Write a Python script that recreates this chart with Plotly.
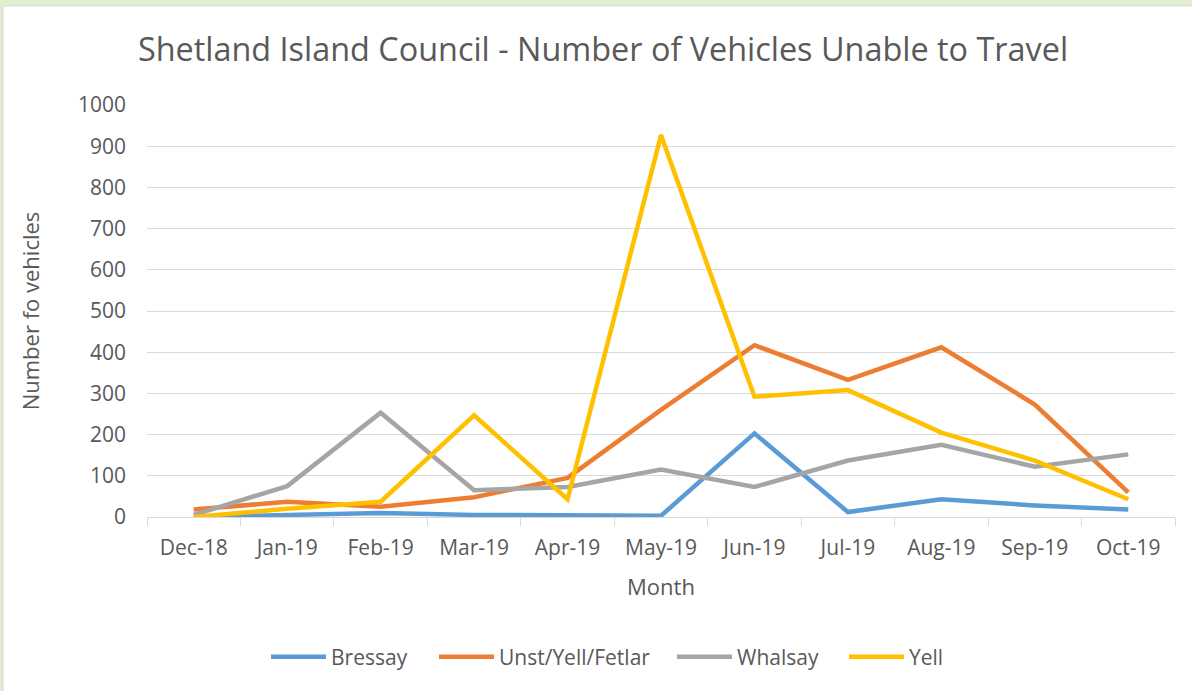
import plotly.graph_objects as go

months = ["Dec-18", "Jan-19", "Feb-19", "Mar-19", "Apr-19", "May-19",
          "Jun-19", "Jul-19", "Aug-19", "Sep-19", "Oct-19"]
bressay = [0, 5, 10, 5, 3, 3, 203, 12, 43, 28, 18]
unst_yell_fetlar = [18, 37, 25, 48, 95, 260, 417, 333, 412, 273, 60]
whalsay = [5, 75, 253, 65, 73, 115, 73, 137, 175, 122, 152]
yell = [0, 20, 37, 247, 43, 927, 292, 308, 205, 137, 43]

series_names = ["Bressay", "Unst/Yell/Fetlar", "Whalsay", "Yell"]
series_values = [bressay, unst_yell_fetlar, whalsay, yell]
series_colors = ["#5B9BD5", "#ED7D31", "#A5A5A5", "#FFC000"]
legend_ids = ["legend", "legend2", "legend3", "legend4"]
legend_line_start_px = [274, 442, 680, 852]

W, H = 1192, 691
L, R, T, B = 147, 17, 105, 174
pw, ph = W - L - R, H - T - B

fig = go.Figure()
for name, vals, col, lg in zip(series_names, series_values, series_colors, legend_ids):
    fig.add_trace(go.Scatter(x=months, y=vals, name=name, mode="lines",
                             legend=lg, line=dict(color=col, width=4.5)))

FONT = "Open Sans"
GREY = "#595959"

def px_to_paper_x(px):
    return (px - L) / pw

def py_to_paper_y(py):
    return (H - B - py) / ph

fig.add_shape(type="rect", xref="paper", yref="paper", layer="below",
              x0=px_to_paper_x(3), x1=px_to_paper_x(1210),
              y0=py_to_paper_y(710), y1=py_to_paper_y(6),
              fillcolor="white", line=dict(color="#d9d9d9", width=1))

legend_style = dict(orientation="h", xref="container", xanchor="left",
                    yref="container", y=1 - 657 / H, yanchor="middle",
                    font=dict(size=21, color=GREY), itemwidth=55,
                    bgcolor="rgba(0,0,0,0)")
LEG_OFFSET = 8
legends = {}
for lg, xs in zip(legend_ids, legend_line_start_px):
    legends[lg] = dict(legend_style, x=(xs - LEG_OFFSET) / W)

fig.update_layout(
    width=W, height=H,
    margin=dict(l=L, r=R, t=T, b=B, autoexpand=False),
    paper_bgcolor="#dfedd0", plot_bgcolor="white",
    font=dict(family=FONT, color=GREY, size=21),
    title=dict(text="Shetland Island Council - Number of Vehicles Unable to Travel",
               x=603 / W, xref="container", xanchor="center",
               y=1 - 50 / H, yref="container", yanchor="middle",
               font=dict(size=32.4, color=GREY, family=FONT)),
    xaxis=dict(type="category", range=[-0.5, 10.5], showgrid=False,
               showline=True, linecolor="#d9d9d9", linewidth=1,
               ticks="outside", tickson="boundaries", ticklen=8,
               tickcolor="#d9d9d9", ticklabelstandoff=12,
               tickfont=dict(size=21, color=GREY),
               title=dict(text="Month", font=dict(size=22, color=GREY), standoff=19),
               automargin=False),
    yaxis=dict(range=[0, 1000], dtick=100, showgrid=True, gridcolor="#d9d9d9",
               gridwidth=1, zeroline=False, showline=False, ticks="",
               ticklabelstandoff=20, tickfont=dict(size=21, color=GREY),
               title=dict(text="Number fo vehicles", font=dict(size=22, color=GREY), standoff=32),
               automargin=False),
    showlegend=True,
    **legends,
)

fig.write_html("out.html", config={"displayModeBar": False},
               post_script="document.body.style.margin='0px';document.body.style.overflow='hidden';")
